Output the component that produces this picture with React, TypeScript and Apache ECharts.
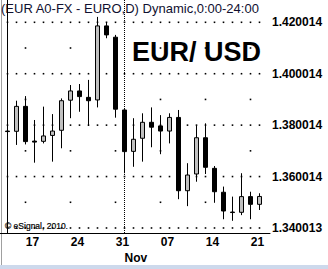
import React, { useEffect, useRef } from "react";
import * as echarts from "echarts";

// Daily EUR/USD bars, 13 Oct – 22 Nov 2010
const tradingDays = [
  "2010-10-13", "2010-10-14", "2010-10-15",
  "2010-10-18", "2010-10-19", "2010-10-20", "2010-10-21", "2010-10-22",
  "2010-10-25", "2010-10-26", "2010-10-27", "2010-10-28", "2010-10-29",
  "2010-11-01", "2010-11-02", "2010-11-03", "2010-11-04", "2010-11-05",
  "2010-11-08", "2010-11-09", "2010-11-10", "2010-11-11", "2010-11-12",
  "2010-11-15", "2010-11-16", "2010-11-17", "2010-11-18", "2010-11-19",
  "2010-11-22",
];
const opens = [
  1.3777, 1.3776, 1.3873, 1.3738, 1.3737, 1.376, 1.378, 1.3897, 1.3933, 1.3908,
  1.3898, 1.4186, 1.4142, 1.3859, 1.3698, 1.3749, 1.3811, 1.3797, 1.3777, 1.383,
  1.3545, 1.361, 1.3751, 1.3632, 1.3539, 1.3462, 1.3461, 1.3522, 1.3492,
];
const closes = [
  1.3775, 1.3873, 1.3736, 1.3734, 1.3758, 1.3777, 1.3895, 1.3933, 1.3911, 1.3895,
  1.4186, 1.4151, 1.3862, 1.3697, 1.3745, 1.3811, 1.3792, 1.3777, 1.383, 1.3545,
  1.3606, 1.3751, 1.3636, 1.3541, 1.3466, 1.346, 1.3522, 1.3492, 1.35226,
];
const lows = [
  1.369, 1.3723, 1.3725, 1.3654, 1.3729, 1.3658, 1.371, 1.3827, 1.3852, 1.3797,
  1.3869, 1.4138, 1.3829, 1.3613, 1.3638, 1.3658, 1.3714, 1.3687, 1.3729, 1.3512,
  1.3485, 1.358, 1.361, 1.3498, 1.3434, 1.3428, 1.345, 1.3434, 1.347,
];
const highs = [
  1.3827, 1.3895, 1.3913, 1.382, 1.3872, 1.3843, 1.3904, 1.3956, 1.396, 1.3976,
  1.4221, 1.42, 1.4151, 1.3862, 1.3827, 1.3846, 1.3869, 1.3839, 1.3846, 1.3859,
  1.3652, 1.3797, 1.3807, 1.3641, 1.3561, 1.3522, 1.3613, 1.3541, 1.3535,
];

// Week labels (eSignal marks each week by its Sunday date) placed on the Monday bar
const weekStartDays = ["2010-10-18", "2010-10-25", "2010-11-01", "2010-11-08", "2010-11-15", "2010-11-22"];
const weekLabels = ["17", "24", "31", "07", "14", "21"];
const monthStartDay = "2010-11-01";
const monthLabel = "Nov";

// Price axis labels and dotted grid levels
const priceTicks = [1.340013, 1.360014, 1.380014, 1.400014, 1.420014];
const majorGridLevels = [1.34, 1.36, 1.38, 1.4, 1.42];
const minorGridLevels = [1.35, 1.37, 1.39, 1.41];
const weekEndDays = ["2010-10-15", "2010-10-22", "2010-10-29", "2010-11-05", "2010-11-12", "2010-11-19"];

const priceMin = 1.33805;
const priceMax = 1.42867;

const FONT = "'Liberation Sans', Arial, sans-serif";

export default function App() {
  const ref = useRef<HTMLDivElement>(null);

  useEffect(() => {
    document.body.style.margin = "0";
    if (!ref.current) return;
    const chart = echarts.init(ref.current, undefined, { renderer: "svg" });

    const candles = tradingDays.map((_, i) => [i, opens[i], closes[i], lows[i], highs[i]]);
    const weekIdx = weekStartDays.map((d) => tradingDays.indexOf(d));
    const fridayIdx = weekEndDays.map((d) => tradingDays.indexOf(d));
    const monthIdx = tradingDays.indexOf(monthStartDay);
    const lastClose = closes[closes.length - 1];

    const dots: number[][] = [];
    majorGridLevels.forEach((lv) => tradingDays.forEach((_, i) => dots.push([i, lv])));
    minorGridLevels.forEach((lv) => fridayIdx.forEach((i) => dots.push([i, lv])));

    chart.setOption({
      animation: false,
      backgroundColor: "#ffffff",
      grid: { left: 0, top: 0, width: 270, height: 233 },
      xAxis: {
        type: "value",
        min: -0.8333,
        max: 29.1667,
        axisLine: { show: true, lineStyle: { color: "#000", width: 1 } },
        axisTick: { show: false },
        splitLine: { show: false },
        axisLabel: {
          customValues: weekIdx,
          formatter: (v: number) => weekLabels[weekIdx.indexOf(Math.round(v))] ?? "",
          color: "#000",
          fontFamily: FONT,
          fontWeight: "bold",
          fontSize: 12,
          margin: 3,
          padding: [0, 4, 0, 0],
        },
      },
      yAxis: {
        type: "value",
        position: "right",
        min: priceMin,
        max: priceMax,
        scale: true,
        axisLine: { show: true, lineStyle: { color: "#000", width: 1 } },
        axisTick: { show: false },
        splitLine: { show: false },
        axisLabel: {
          customValues: priceTicks,
          formatter: (v: number) => v.toFixed(6),
          color: "#000",
          fontFamily: FONT,
          fontWeight: "bold",
          fontSize: 12,
          margin: 2,
        },
      },
      series: [
        {
          type: "scatter",
          name: "grid",
          silent: true,
          z: 1,
          symbol: "rect",
          symbolSize: 1.6,
          itemStyle: { color: "#000", opacity: 1 },
          data: dots,
        },
        {
          type: "candlestick",
          name: "EUR/USD",
          z: 3,
          barWidth: 5,
          encode: { x: 0, y: [1, 2, 3, 4] },
          itemStyle: {
            color: "#c0c0c0",
            color0: "#000000",
            borderColor: "#000000",
            borderColor0: "#000000",
            borderWidth: 1,
          },
          data: candles,
          markLine: {
            silent: true,
            symbol: ["none", "none"],
            animation: false,
            data: [
              {
                xAxis: monthIdx,
                lineStyle: { type: [1, 1], color: "#000", width: 1 },
                label: { show: false },
              },
              {
                yAxis: lastClose,
                lineStyle: { opacity: 0 },
                label: {
                  show: true,
                  position: "end",
                  distance: 1,
                  formatter: lastClose.toFixed(5),
                  color: "#ffffff",
                  backgroundColor: "#c0c0c0",
                  fontFamily: FONT,
                  fontWeight: "bold",
                  fontSize: 12,
                  lineHeight: 13,
                  padding: [1, 4, 0, 5],
                },
              },
            ],
          },
        },
      ],
    });

    const monthX = chart.convertToPixel({ xAxisIndex: 0 }, monthIdx) as number;

    chart.setOption({
      graphic: [
        {
          type: "rect",
          silent: true,
          shape: { x: 1, y: 0, width: 1, height: 265 },
          style: { fill: "#a0a0a0" },
        },
        {
          type: "rect",
          silent: true,
          shape: { x: 0, y: 265, width: 328, height: 4 },
          style: { fill: "#cdd9ec" },
        },
        {
          type: "text",
          silent: true,
          x: 1,
          y: 8,
          style: {
            text: "(EUR A0-FX - EURO,D) Dynamic,0:00-24:00",
            fill: "#101030",
            font: `13px ${FONT}`,
            textAlign: "left",
            textVerticalAlign: "middle",
          },
        },
        {
          type: "text",
          silent: true,
          x: 132,
          y: 52,
          style: {
            text: "EUR/ USD",
            fill: "#000",
            font: `bold 27px ${FONT}`,
            textAlign: "left",
            textVerticalAlign: "middle",
          },
        },
        {
          type: "text",
          silent: true,
          x: 5,
          y: 226,
          style: {
            text: "© eSignal, 2010.",
            fill: "#000",
            font: `8.5px ${FONT}`,
            stroke: "#000",
            lineWidth: 0.2,
            textAlign: "left",
            textVerticalAlign: "middle",
          },
        },
        {
          type: "text",
          silent: true,
          x: monthX,
          y: 258,
          style: {
            text: monthLabel,
            fill: "#000",
            font: `bold 12px ${FONT}`,
            textAlign: "left",
            textVerticalAlign: "middle",
          },
        },
      ],
    });

    return () => chart.dispose();
  }, []);

  return <div ref={ref} style={{ width: 328, height: 269 }} />;
}
